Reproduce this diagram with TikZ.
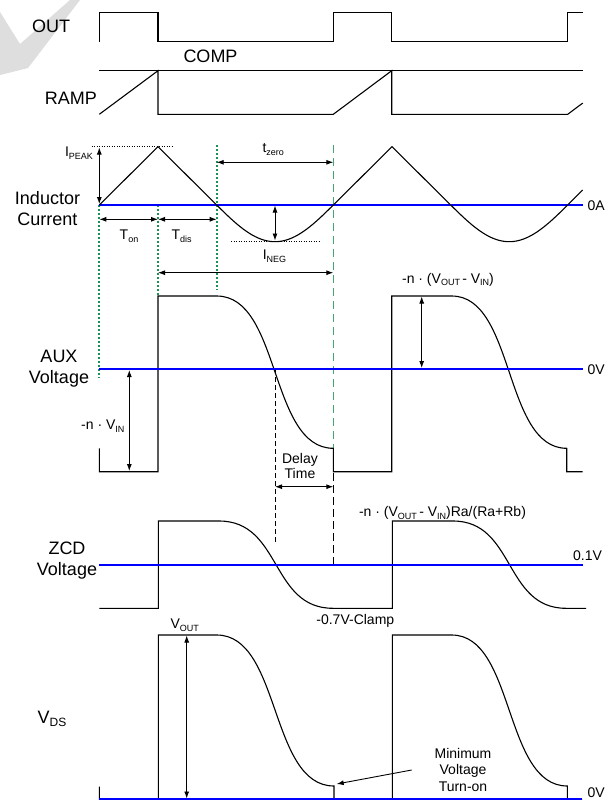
\documentclass[tikz,border=0pt]{standalone}
\usepackage{fontspec}
\setmainfont{Liberation Sans}
\usetikzlibrary{arrows.meta}
\definecolor{zline}{RGB}{0,0,255}
\definecolor{gdot}{RGB}{20,150,80}
\definecolor{gdash}{RGB}{70,165,115}
\definecolor{wmark}{RGB}{222,222,222}
\newcommand\sbs[1]{\raisebox{-0.35ex}{\fontsize{9}{9}\selectfont #1}}
\newcommand\sbl[1]{\raisebox{-0.35ex}{\fontsize{12}{12}\selectfont #1}}
\begin{document}
\begin{tikzpicture}[x=1pt,y=-1pt,
 wave/.style={line width=1.1pt, line join=miter},
 zero/.style={zline, line width=2pt},
 big/.style={font=\fontsize{18}{21.5}\selectfont, align=center, inner sep=0},
 small/.style={font=\fontsize{14}{16.5}\selectfont, align=center, inner sep=0},
 dar/.style={line width=0.9pt, {Latex[length=7pt,width=5pt]}-{Latex[length=7pt,width=5pt]}},
 sar/.style={line width=0.9pt, -{Latex[length=7pt,width=5pt]}},
 gdotted/.style={gdot, line width=1.8pt, dash pattern=on 1.8pt off 2.2pt},
 gdashed/.style={gdash, line width=1.5pt, dash pattern=on 8pt off 5pt},
 kdashed/.style={line width=0.8pt, dash pattern=on 8pt off 4pt},
 kdashs/.style={line width=0.8pt, dash pattern=on 5pt off 3pt},
 kdotted/.style={line width=0.8pt, dash pattern=on 1pt off 1.5pt},
]
\useasboundingbox[fill=white] (0,0) rectangle (612,801);
% faint watermark
\fill[wmark] (0,12) -- (20,44) -- (70,0) -- (80,0) -- (28,68) -- (0,75) -- cycle;

% ---------- labels ----------
\node[big] (lout) at (51,26.5) {OUT};
\node[big] (lcomp) at (210.5,56) {COMP};
\node[big] (lramp) at (71,98.3) {RAMP};
\node[big] (lind) at (47.5,208.5) {Inductor\\Current};
\node[big] (laux) at (59,368.7) {AUX\\Voltage};
\node[big] (lzcd) at (67,560.5) {ZCD\\Voltage};
\node[big] (lvds) at (52,719) {V\sbl{DS}};

\node[small] (lpeak) at (79,153) {I\sbs{PEAK}};
\node[small] (lton) at (129,236) {T\sbs{on}};
\node[small] (ltdis) at (181.7,236) {T\sbs{dis}};
\node[small] (ltz) at (273.3,149.5) {t\sbs{zero}};
\node[small] (lneg) at (274.5,256) {I\sbs{NEG}};
\node[small, anchor=west] (l0a) at (587.3,206) {0A};
\node[small, anchor=west] (l0v) at (587.3,370) {0V};
\node[small] (lnvin) at (102.8,426) {-n {\textperiodcentered} V\sbs{IN}};
\node[small] (lnvo) at (448,279.5) {-n {\textperiodcentered} (V\sbs{OUT}\,- V\sbs{IN})};
\node[small, font=\fontsize{14}{15.7}\selectfont] (ldel) at (300,466) {Delay\\Time};
\node[small] (lzcdt) at (442.5,513.3) {-n {\textperiodcentered} (V\sbs{OUT}\,- V\sbs{IN})Ra/(Ra+Rb)};
\node[small] (l01) at (587.5,556) {0.1V};
\node[small] (lclamp) at (355.3,621) {-0.7V-Clamp};
\node[small] (lvout) at (184.7,625) {V\sbs{OUT}};
\node[small] (lmin) at (463,769.6) {Minimum\\Voltage\\Turn-on};
\node[small, anchor=west] (l0vb) at (587.3,793) {0V};

% ---------- top waveforms ----------
\draw[wave] (99.3,41.7) -- (99.3,12.3) -- (158,12.3) -- (158,41.7) -- (333.3,41.7) -- (333.3,12.3) -- (391.7,12.3) -- (391.7,41.7) -- (567.7,41.7) -- (567.7,12.3) -- (582.7,12.3);
\draw[wave] (99.3,70.7) -- (582.7,70.7);
\draw[wave] (99.3,114.3) -- (158,70.7) -- (158,114.3) -- (333.3,114.3) -- (391.7,70.7) -- (391.7,114.3) -- (567.7,114.3) -- (582.7,103.1);

% ---------- vertical guides ----------
\draw[gdotted] (99.3,205) -- (99.3,378);
\draw[gdotted] (158,205) -- (158,295);
\draw[gdotted] (216.7,145) -- (216.7,290);
\draw[gdashed] (333.3,145) -- (333.3,448);
\draw[kdashed] (333.3,473) -- (333.3,568);
\draw[kdashs] (275,369) -- (275,542);

% ---------- inductor current ----------
\draw[zero] (99.3,205) -- (582.7,205);
\draw[wave] (99.3,205) -- (158,146.7) -- (216.7,205)
  -- plot[domain=0:180,samples=40] ({216.7+\x*0.6478},{205+36.7*sin(\x)})
  -- (392,146.7) -- (450.7,205)
  -- plot[domain=0:180,samples=40] ({450.7+\x*0.65},{205+36.7*sin(\x)})
  -- (582.7,190);
\draw[kdotted] (91.7,146) -- (173.3,146);
\draw[kdotted] (231,241.7) -- (319,241.7);

\coordinate (pk1) at (99.3,147.5); \coordinate (pk2) at (99.3,204);
\draw[dar] (pk1) -- (pk2);
\coordinate (on1) at (99.3,219.3); \coordinate (on2) at (158,219.3); \coordinate (dis2) at (216.7,219.3);
\draw[dar] (on1) -- (on2);
\draw[dar] (on2) -- (dis2);
\coordinate (tz1) at (216.7,162.3); \coordinate (tz2) at (333.3,162.3);
\draw[dar] (tz1) -- (tz2);
\coordinate (ng1) at (275,205.5); \coordinate (ng2) at (275,240.5);
\draw[dar] (ng1) -- (ng2);
\coordinate (lg1) at (158,272.7); \coordinate (lg2) at (333.3,272.7);
\draw[dar] (lg1) -- (lg2);

% ---------- AUX ----------
\draw[wave] (99.3,448.3) -- (99.3,471.7) -- (158,471.7) -- (158,296) -- (216.7,296)
  .. controls (280.9,296) and (269.2,448.3) .. (333.3,448.3) -- (333.3,471.7) -- (391.7,471.7) -- (391.7,296) -- (451.7,296)
  .. controls (515,296) and (503.5,448.3) .. (566.7,448.3) -- (566.7,471.7) -- (582.7,471.7);
\draw[zero] (99.3,369) -- (582.7,369);
\coordinate (vi1) at (129.3,370); \coordinate (vi2) at (129.3,471);
\draw[dar] (vi1) -- (vi2);
\coordinate (vo1) at (421.7,296.5); \coordinate (vo2) at (421.7,368);
\draw[dar] (vo1) -- (vo2);
\coordinate (dl1) at (275,486.7); \coordinate (dl2) at (333.3,486.7);
\draw[dar] (dl1) -- (dl2);

% ---------- ZCD ----------
\draw[wave] (99.3,608.3) -- (158.3,608.3) -- (158.3,521) -- (219,521)
  .. controls (281.7,521) and (270.3,608.3) .. (333,608.3) -- (392.3,608.3) -- (392.3,521) -- (453,521)
  .. controls (515,521) and (504,608.3) .. (566,608.3) -- (586,608.3);
\draw[zero] (99.3,565) -- (583.3,565);

% ---------- VDS ----------
\draw[wave] (99.3,786.7) -- (99.3,799.3) -- (158.3,799.3) -- (158.3,635) -- (216.7,635)
  .. controls (281,635) and (269.3,786) .. (334,786) -- (334,799.3) -- (392.3,799.3) -- (392.3,635) -- (451.7,635)
  .. controls (515,635) and (503.5,786) .. (567.3,786) -- (567.3,799.3) -- (582,799.3);
\draw[zero] (99.3,799.3) -- (582.3,799.3);
\coordinate (vt1) at (186.7,635.5); \coordinate (vt2) at (186.7,798.5);
\draw[dar] (vt1) -- (vt2);
\coordinate (mv1) at (411.7,770); \coordinate (mv2) at (336.7,784);
\draw[sar] (mv1) -- (mv2);
\end{tikzpicture}
\end{document}
